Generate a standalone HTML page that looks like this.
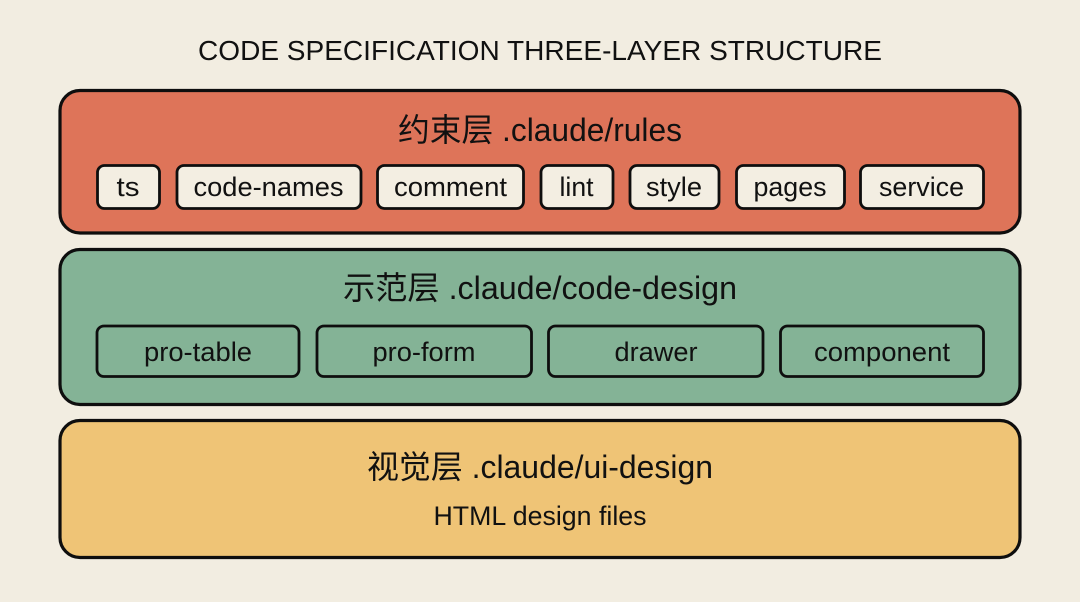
<!DOCTYPE html>
<html><head><meta charset="utf-8"><style>
html,body{margin:0;padding:0;background:#f2ede1}
svg{display:block}
text{font-family:"Liberation Sans","Noto Sans CJK SC",sans-serif;fill:#111;text-anchor:middle}
.l{stroke:#0e0e0e;stroke-width:3.2;}
.c{stroke:#0e0e0e;stroke-width:2.8;}
.t{font-size:27px}
.h{font-size:32px}
</style></head><body>
<svg width="1080" height="602" viewBox="0 0 1080 602" xmlns="http://www.w3.org/2000/svg">
<rect width="1080" height="602" fill="#f2ede1"/>
<text x="540" y="60" font-size="28" textLength="684" lengthAdjust="spacingAndGlyphs">CODE SPECIFICATION THREE-LAYER STRUCTURE</text>

<rect class="l" x="60" y="90.500" width="960" height="142.500" rx="20" fill="#de7459"/>
<text class="h" x="540" y="141" textLength="284" lengthAdjust="spacingAndGlyphs">约束层 .claude/rules</text>
<g fill="#f3eee2">
<rect class="c" x="97.500" y="165.500" width="62" height="43" rx="7"/>
<rect class="c" x="177" y="165.500" width="184" height="43" rx="7"/>
<rect class="c" x="377.500" y="165.500" width="146" height="43" rx="7"/>
<rect class="c" x="541" y="165.500" width="72" height="43" rx="7"/>
<rect class="c" x="630" y="165.500" width="89" height="43" rx="7"/>
<rect class="c" x="736.500" y="165.500" width="108" height="43" rx="7"/>
<rect class="c" x="860.500" y="165.500" width="123" height="43" rx="7"/>
</g>
<text class="t" x="128" y="196" textLength="23" lengthAdjust="spacingAndGlyphs">ts</text>
<text class="t" x="268.500" y="196" textLength="150" lengthAdjust="spacingAndGlyphs">code-names</text>
<text class="t" x="450.500" y="196" textLength="113" lengthAdjust="spacingAndGlyphs">comment</text>
<text class="t" x="576.500" y="196" textLength="34" lengthAdjust="spacingAndGlyphs">lint</text>
<text class="t" x="674" y="196" textLength="56" lengthAdjust="spacingAndGlyphs">style</text>
<text class="t" x="790" y="196" textLength="73" lengthAdjust="spacingAndGlyphs">pages</text>
<text class="t" x="921.500" y="196" textLength="85" lengthAdjust="spacingAndGlyphs">service</text>

<rect class="l" x="60" y="249.500" width="960" height="155" rx="20" fill="#84b396"/>
<text class="h" x="540" y="299" textLength="394" lengthAdjust="spacingAndGlyphs">示范层 .claude/code-design</text>
<g fill="none">
<rect class="c" x="97" y="326" width="202" height="50.500" rx="7"/>
<rect class="c" x="317" y="326" width="214.500" height="50.500" rx="7"/>
<rect class="c" x="548.500" y="326" width="214.500" height="50.500" rx="7"/>
<rect class="c" x="780.500" y="326" width="203" height="50.500" rx="7"/>
</g>
<text class="t" x="198" y="361" textLength="108" lengthAdjust="spacingAndGlyphs">pro-table</text>
<text class="t" x="424" y="361" textLength="103" lengthAdjust="spacingAndGlyphs">pro-form</text>
<text class="t" x="656" y="361" textLength="83" lengthAdjust="spacingAndGlyphs">drawer</text>
<text class="t" x="882" y="361" textLength="136" lengthAdjust="spacingAndGlyphs">component</text>

<rect class="l" x="60" y="420.500" width="960" height="137" rx="20" fill="#efc476"/>
<text class="h" x="540" y="478" textLength="346" lengthAdjust="spacingAndGlyphs">视觉层 .claude/ui-design</text>
<text class="t" x="540" y="525" textLength="213" lengthAdjust="spacingAndGlyphs">HTML design files</text>
</svg>
</body></html>
